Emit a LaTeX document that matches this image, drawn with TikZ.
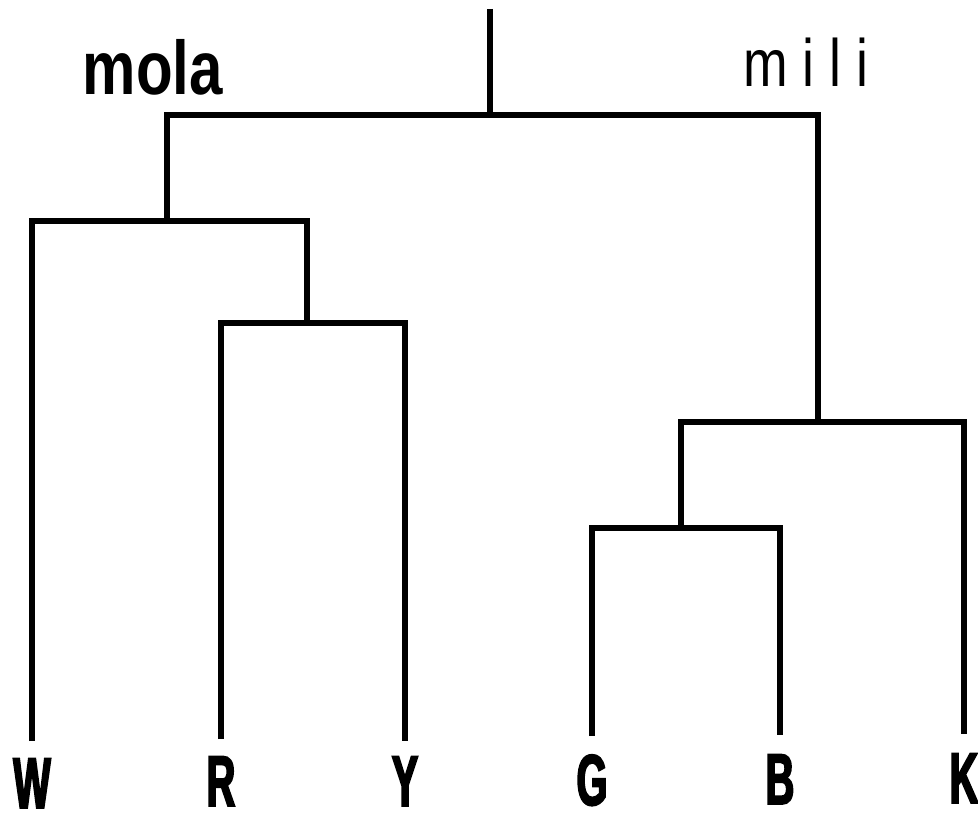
\documentclass[tikz,border=0pt]{standalone}
\usepackage{fontspec}
\setmainfont{Liberation Sans}
\newfontfamily\leaffont[FakeStretch=0.55, BoldFeatures={FakeBold=2.5}]{Liberation Sans}
\newfontfamily\molafont[FakeStretch=0.79]{Liberation Sans}
\newfontfamily\milifont[FakeStretch=0.8]{Liberation Sans}
\begin{document}
\begin{tikzpicture}[y=-1pt, x=1pt, line width=6.5pt,
	leaf/.style={anchor=base, inner sep=0pt, font=\leaffont\bfseries\fontsize{72}{80}\selectfont}]
	\useasboundingbox (0,0) rectangle (978,818);
	%leaves
	\foreach \name/\x/\yend/\ybase in {
		W/32/741/808,
		R/221/739/806,
		Y/405/741/806,
		G/592/736/805,
		B/780/735/804,
		K/964/734/803
	}{
	\coordinate (end\name) at (\x,\yend);
	\node[leaf] (\name) at (\x,\ybase) {\name};
	}
	%joins
	\coordinate (top) at (490,9);
	\coordinate (root) at (490,115);
	\coordinate (WRY) at (167,221);
	\coordinate (RY) at (307,323);
	\coordinate (GBK) at (818,422);
	\coordinate (GB) at (681,528);
	%tree
	\draw (top) -- (root);
	\draw (WRY) |- (root) -| (GBK);
	\draw (endW) |- (WRY) -| (RY);
	\draw (endR) |- (RY) -| (endY);
	\draw (GB) |- (GBK) -| (endK);
	\draw (endG) |- (GB) -| (endB);
	%labels
	\node[anchor=base, inner sep=0pt, font=\molafont\bfseries\fontsize{76}{80}\selectfont] (mola) at (153,95) {mola};
	\node[anchor=base, inner sep=0pt, font=\milifont\fontsize{67}{72}\selectfont] (mili) at (806,87) {m i l i};
\end{tikzpicture}
\end{document}
